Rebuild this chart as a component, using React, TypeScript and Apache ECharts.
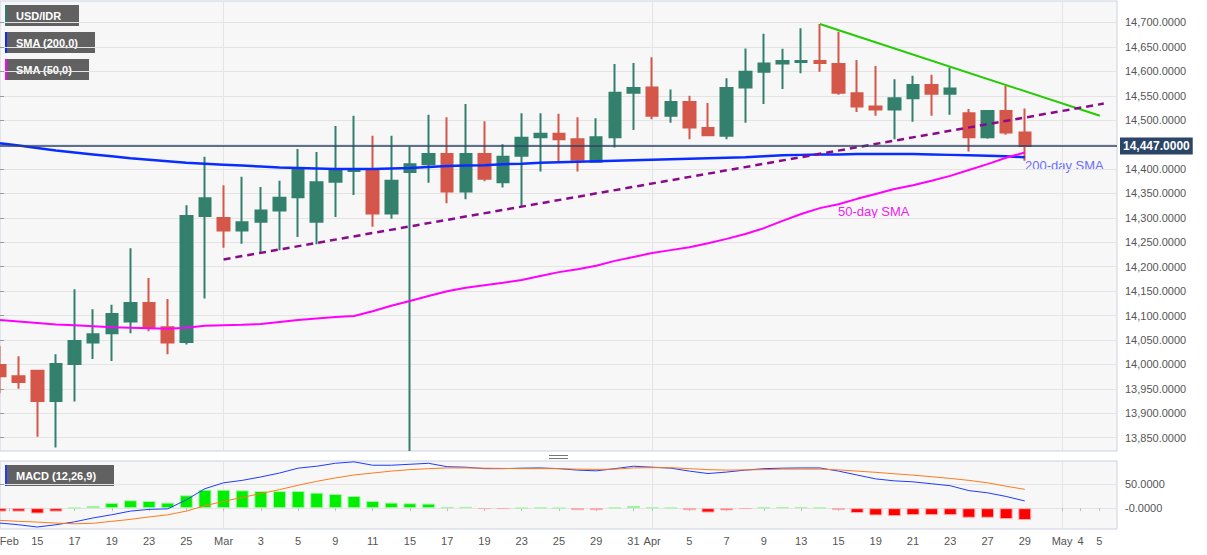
import React, { useEffect, useRef } from 'react';
import * as echarts from 'echarts';

const FONT = '"Liberation Sans", Arial, sans-serif';

// Trading days shown on the time axis (index = position on the x axis)
const tradingDays = [
  'Feb 11', 'Feb 12', 'Feb 15', 'Feb 16', 'Feb 17', 'Feb 18', 'Feb 19', 'Feb 22', 'Feb 23', 'Feb 24',
  'Feb 25', 'Feb 26', 'Mar 1', 'Mar 2', 'Mar 3', 'Mar 4', 'Mar 5', 'Mar 8', 'Mar 9', 'Mar 10',
  'Mar 11', 'Mar 12', 'Mar 15', 'Mar 16', 'Mar 17', 'Mar 18', 'Mar 19', 'Mar 22', 'Mar 23', 'Mar 24',
  'Mar 25', 'Mar 26', 'Mar 29', 'Mar 30', 'Mar 31', 'Apr 1', 'Apr 2', 'Apr 5', 'Apr 6', 'Apr 7',
  'Apr 8', 'Apr 9', 'Apr 12', 'Apr 13', 'Apr 14', 'Apr 15', 'Apr 16', 'Apr 19', 'Apr 20', 'Apr 21',
  'Apr 22', 'Apr 23', 'Apr 26', 'Apr 27', 'Apr 28', 'Apr 29', 'Apr 30', 'May 3', 'May 4', 'May 5',
];

// x-axis tick positions (day index) and their labels
const xTickPos = [0.5, 2, 4, 6, 8, 10, 12, 14, 16, 18, 20, 22, 24, 26, 28, 30, 32, 34, 35, 37, 39, 41, 43, 45, 47, 49, 51, 53, 55, 57, 58, 59];
const xTickText = ['Feb', '15', '17', '19', '23', '25', 'Mar', '3', '5', '9', '11', '15', '17', '19', '23', '25', '29', '31', 'Apr', '5', '7', '9', '13', '15', '19', '21', '23', '27', '29', 'May', '4', '5'];
const monthStarts = [12, 35, 57];

const priceTicks = [13850, 13900, 13950, 14000, 14050, 14100, 14150, 14200, 14250, 14300, 14350, 14400, 14450, 14500, 14550, 14600, 14650, 14700];
const macdTicks = [0, 50];

// Daily USD/IDR candles: [open, high, low, close]
const ohlc = [
  [13999, 14038, 13941, 13976], [13976, 14017, 13950, 13964], [13987, 13989, 13852, 13925], [13925, 14021, 13830, 14001],
  [14001, 14154, 13924, 14048], [14045, 14113, 14011, 14062], [14064, 14122, 14007, 14103], [14088, 14238, 14064, 14126],
  [14126, 14177, 14068, 14076], [14076, 14134, 14021, 14045], [14046, 14326, 14041, 14304], [14304, 14425, 14135, 14340],
  [14300, 14367, 14239, 14274], [14274, 14384, 14247, 14291], [14292, 14363, 14229, 14315], [14315, 14376, 14234, 14341],
  [14342, 14441, 14261, 14400], [14292, 14435, 14246, 14373], [14374, 14488, 14302, 14398], [14396, 14509, 14347, 14399],
  [14400, 14468, 14282, 14309], [14309, 14468, 14298, 14376], [14394, 14446, 13823, 14410], [14410, 14511, 14372, 14431],
  [14431, 14506, 14330, 14354], [14354, 14533, 14338, 14431], [14431, 14498, 14375, 14380], [14373, 14451, 14362, 14425],
  [14427, 14514, 14324, 14464], [14465, 14514, 14395, 14472], [14472, 14513, 14413, 14461], [14461, 14506, 14395, 14419],
  [14415, 14504, 14414, 14465], [14465, 14615, 14444, 14556], [14556, 14617, 14480, 14566], [14567, 14629, 14502, 14509],
  [14509, 14563, 14495, 14537], [14537, 14550, 14461, 14485], [14484, 14535, 14467, 14469], [14468, 14586, 14461, 14566],
  [14567, 14647, 14495, 14599], [14599, 14677, 14533, 14616], [14616, 14646, 14564, 14621], [14619, 14688, 14596, 14621],
  [14621, 14697, 14599, 14617], [14615, 14681, 14552, 14556], [14555, 14623, 14517, 14528], [14528, 14611, 14509, 14522],
  [14522, 14584, 14461, 14545], [14545, 14591, 14497, 14572], [14572, 14593, 14509, 14554], [14554, 14608, 14511, 14565],
  [14514, 14523, 14436, 14465], [14465, 14520, 14462, 14519], [14519, 14570, 14470, 14475], [14475, 14524, 14417, 14447],
];

const sma200 = [
  14453, 14448, 14443, 14438, 14434, 14430, 14426, 14422, 14419, 14416,
  14413, 14411, 14409, 14407, 14405, 14403, 14402, 14401, 14400, 14400,
  14400, 14401, 14402, 14404, 14406, 14407, 14408, 14410, 14411, 14413,
  14414, 14415, 14416, 14417, 14418, 14419, 14420, 14421, 14422, 14423,
  14424, 14426, 14428, 14429, 14430, 14430, 14431, 14431, 14431, 14431,
  14430, 14429, 14428, 14427, 14426, 14424,
];

const sma50 = [
  14091, 14088, 14085, 14082, 14080, 14078, 14076, 14075, 14074, 14073,
  14075, 14079, 14080, 14081, 14083, 14087, 14091, 14094, 14097, 14099,
  14109, 14120, 14130, 14140, 14150, 14157, 14162, 14167, 14173, 14181,
  14189, 14195, 14202, 14212, 14220, 14228, 14234, 14240, 14248, 14257,
  14267, 14279, 14294, 14308, 14320, 14328, 14339, 14349, 14359, 14367,
  14376, 14386, 14398, 14410, 14423, 14434,
];

// Trend lines: [day index, price]
const resistance = [[44, 14697], [59.03, 14509]];
const support = [[12, 14215], [59.24, 14534]];

// MACD (12,26,9)
const macdLine = [
  -30.5, -34, -38.6, -34, -28, -20, -13.5, -6, -2.5, -1.4,
  17, 40, 52, 57, 64, 72, 82, 86, 92, 95,
  88, 88, 90, 92, 85, 84, 81, 81, 82, 82.5,
  81, 78, 76.5, 81, 86, 84, 82, 76, 71, 74,
  78, 81, 82, 82.5, 82.5, 76, 68, 60, 56, 54,
  50, 46, 36, 31.5, 24, 14.8,
];
const signalLine = [
  -25, -27, -28.5, -30.5, -32, -31, -27, -23, -18, -13.6,
  -6, 5, 14, 22, 30, 38, 47, 55, 62, 68,
  72, 76, 79, 81, 82.5, 82.5, 82, 81.5, 81, 81,
  81, 80, 79.5, 80, 82.5, 83, 83, 81, 79, 78,
  78.5, 79, 80, 80, 80, 78.5, 76, 73.5, 70.5, 67.7,
  64.5, 61, 57, 52, 45, 38.6,
];
const histogram = [
  -7, -7, -11, -7, 0.5, 4.7, 10.8, 16.2, 14.8, 11.4,
  26.4, 37.8, 37.8, 36.6, 35.2, 35, 35.2, 31.8, 29, 25,
  14.8, 11.4, 10.1, 9.4, 2.7, 2.7, -1.5, -1.5, 0.3, 1,
  0.3, -4, -4, 1.5, 4.7, 1.5, 1, -4, -9, -4.5,
  -1.5, 1.5, 2.5, 2.5, 1, -3.4, -10, -15, -16.3, -14.3,
  -14.3, -14.3, -19.7, -19.7, -22.4, -24.4,
];

const UP = '#33806d';
const DOWN = '#d4574a';
const PRICE_LINE = '#2b4567';
const GRID_LINE = '#e4e4e4';
const BORDER = '#cdd1e3';

const fmtPrice = (v: number) =>
  v.toLocaleString('en-US', { minimumFractionDigits: 4, maximumFractionDigits: 4 });

const withIndex = (arr: number[]) => arr.map((v, i) => [i, v]);

function buildOption() {
  const lastClose = ohlc[ohlc.length - 1][3];
  const xMax = tradingDays.length - 0.05;
  // the last-price tag covers the scale label right next to it
  const priceLabels = priceTicks.filter((v) => Math.abs(v - lastClose) > 20);

  const legendBox = (y: number, w: number, stripe: string, text: string) => [
    { type: 'rect', shape: { x: 5, y, width: w, height: 21 }, style: { fill: '#585858', opacity: 0.95 } },
    { type: 'rect', shape: { x: 5, y, width: 2, height: 21 }, style: { fill: stripe } },
    {
      type: 'text', x: 16, y: y + 10.5,
      style: { text, fill: '#ffffff', font: `bold 11px ${FONT}`, verticalAlign: 'middle' },
    },
  ];

  // hidden axis per panel whose only job is the vertical month separators
  const monthAxis = (gridIndex: number) => ({
    type: 'value', gridIndex, min: 0, max: xMax, position: 'top',
    axisLine: { show: false },
    axisTick: { show: false, customValues: monthStarts },
    axisLabel: { show: false, customValues: monthStarts },
    splitLine: { show: true, lineStyle: { color: GRID_LINE, width: 1 } },
  });

  return {
    animation: false,
    backgroundColor: '#ffffff',
    textStyle: { fontFamily: FONT },
    grid: [
      { left: 0, right: 90, top: 1, height: 450, show: true, backgroundColor: '#f7f7f7', borderColor: BORDER, borderWidth: 1, outerBoundsMode: 'none' },
      { left: 0, right: 90, top: 461, height: 68, show: true, backgroundColor: '#f7f7f7', borderColor: BORDER, borderWidth: 1, outerBoundsMode: 'none' },
    ],
    xAxis: [
      {
        type: 'value', gridIndex: 0, min: 0, max: xMax,
        axisLine: { show: false }, axisTick: { show: false }, axisLabel: { show: false }, splitLine: { show: false },
      },
      {
        type: 'value', gridIndex: 1, min: 0, max: xMax,
        axisLine: { show: false },
        axisTick: { show: true, customValues: xTickPos, length: 3, lineStyle: { color: '#b9bdcc' } },
        axisLabel: {
          customValues: xTickPos, margin: 6, fontSize: 11, color: '#555555', fontFamily: FONT,
          formatter: (v: number) => {
            const k = xTickPos.indexOf(v);
            return k >= 0 ? xTickText[k] : '';
          },
        },
        splitLine: { show: false },
      },
      monthAxis(0),
      monthAxis(1),
    ],
    yAxis: [
      {
        type: 'value', gridIndex: 0, position: 'right', min: 13822.8, max: 14744,
        axisLine: { show: false },
        axisTick: { show: true, customValues: priceTicks, length: 4, lineStyle: { color: '#999999' } },
        axisLabel: { customValues: priceLabels, margin: 8, fontSize: 11, color: '#555555', fontFamily: FONT, formatter: (v: number) => fmtPrice(v) },
        splitLine: { show: true, lineStyle: { color: GRID_LINE, width: 1 } },
      },
      {
        type: 'value', gridIndex: 1, position: 'right', min: -42.7, max: 96.7,
        axisLine: { show: false },
        axisTick: { show: true, customValues: macdTicks, length: 4, lineStyle: { color: '#999999' } },
        axisLabel: {
          customValues: macdTicks, margin: 8, fontSize: 11, color: '#555555', fontFamily: FONT,
          formatter: (v: number) => (v === 0 ? '-0.0000' : v.toFixed(4)),
        },
        splitLine: { show: true, lineStyle: { color: GRID_LINE, width: 1 } },
      },
    ],
    series: [
      {
        name: 'USD/IDR', type: 'candlestick', xAxisIndex: 0, yAxisIndex: 0, z: 2,
        barWidth: 12,
        itemStyle: { color: UP, color0: DOWN, borderColor: UP, borderColor0: DOWN, borderWidth: 2 },
        data: ohlc.map(([o, h, l, c], i) => [i, o, c, l, h]),
      },
      {
        name: 'SMA (200,0)', type: 'line', xAxisIndex: 0, yAxisIndex: 0, z: 3,
        showSymbol: false, symbol: 'none',
        lineStyle: { color: '#0a2dff', width: 2.5 },
        data: withIndex(sma200),
      },
      {
        name: 'SMA (50,0)', type: 'line', xAxisIndex: 0, yAxisIndex: 0, z: 3,
        showSymbol: false, symbol: 'none',
        lineStyle: { color: '#ff00ff', width: 2 },
        data: withIndex(sma50),
      },
      {
        name: 'resistance', type: 'line', xAxisIndex: 0, yAxisIndex: 0, z: 4,
        showSymbol: false, symbol: 'none',
        lineStyle: { color: '#22cc00', width: 2 },
        data: resistance,
      },
      {
        name: 'support', type: 'line', xAxisIndex: 0, yAxisIndex: 0, z: 4,
        showSymbol: false, symbol: 'none',
        lineStyle: { color: '#8b0a8b', width: 2.5, type: [7, 5] },
        data: support,
      },
      // last price line with its tag on the price scale
      {
        type: 'line', xAxisIndex: 0, yAxisIndex: 0, data: [], z: 5, silent: true,
        markLine: {
          silent: true, symbol: 'none',
          lineStyle: { color: PRICE_LINE, width: 1.5, type: 'solid' },
          label: {
            show: true, position: 'end', distance: 3,
            formatter: fmtPrice(lastClose),
            backgroundColor: PRICE_LINE, color: '#ffffff', fontWeight: 'bold', fontSize: 12, fontFamily: FONT,
            padding: [3, 3, 2, 3],
          },
          data: [{ yAxis: lastClose }],
        },
      },
      {
        name: 'Histogram', type: 'bar', xAxisIndex: 1, yAxisIndex: 1, z: 2,
        barWidth: 13,
        data: histogram.map((v, i) => ({
          value: [i, v],
          itemStyle: v >= 0
            ? { color: '#00ee00', borderColor: '#a8f7a8', borderWidth: 1 }
            : { color: '#ff0000', borderColor: '#ffb0b0', borderWidth: 1 },
        })),
      },
      {
        name: 'MACD', type: 'line', xAxisIndex: 1, yAxisIndex: 1, z: 3,
        showSymbol: false, symbol: 'none',
        lineStyle: { color: '#1f3bff', width: 1 },
        data: withIndex(macdLine),
      },
      {
        name: 'Signal', type: 'line', xAxisIndex: 1, yAxisIndex: 1, z: 3,
        showSymbol: false, symbol: 'none',
        lineStyle: { color: '#ff7a1a', width: 1 },
        data: withIndex(signalLine),
      },
    ],
    graphic: [
      ...legendBox(5, 74, '#2e7d6e', 'USD/IDR'),
      ...legendBox(32, 90, '#0a2dff', 'SMA (200,0)'),
      ...legendBox(59, 84, '#ff00ff', 'SMA (50,0)'),
      ...legendBox(465, 109, '#1f3bff', 'MACD (12,26,9)'),
      {
        type: 'text', x: 1025, y: 165,
        style: { text: '200-day SMA', fill: '#6b6dff', font: `13px ${FONT}`, verticalAlign: 'middle' },
      },
      {
        type: 'text', x: 838, y: 211,
        style: { text: '50-day SMA', fill: '#ee22ee', font: `13px ${FONT}`, verticalAlign: 'middle' },
      },
      { type: 'line', shape: { x1: 549, y1: 455.5, x2: 568, y2: 455.5 }, style: { stroke: '#777777', lineWidth: 1 } },
      { type: 'line', shape: { x1: 549, y1: 458.5, x2: 568, y2: 458.5 }, style: { stroke: '#777777', lineWidth: 1 } },
    ],
  };
}

export default function App() {
  const ref = useRef<HTMLDivElement>(null);

  useEffect(() => {
    if (!ref.current) return;
    const chart = echarts.init(ref.current, null, { renderer: 'svg' });
    chart.setOption(buildOption() as any);
    return () => chart.dispose();
  }, []);

  return (
    <div
      ref={ref}
      style={{ position: 'absolute', left: 0, top: 0, width: 1207, height: 555, background: '#ffffff' }}
    />
  );
}
